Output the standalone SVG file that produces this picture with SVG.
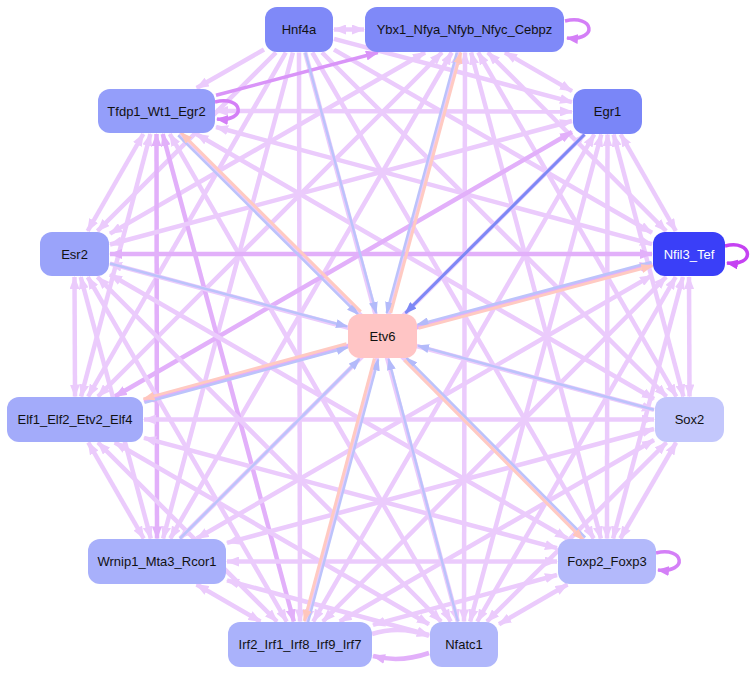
<svg xmlns="http://www.w3.org/2000/svg" width="756" height="674" viewBox="0 0 756 674">
<defs>
<style>
.pp{stroke:#ebcbfc;stroke-width:4.5;fill:none;marker-start:url(#aP);marker-end:url(#aP)}
.pe{stroke:#ebcbfc;stroke-width:4.5;fill:none;marker-end:url(#aP)}
.dp{stroke:#e2b0fa;stroke-width:4.5;fill:none;marker-start:url(#aD);marker-end:url(#aD)}
.dk{stroke:#d994f8;stroke-width:3.5;fill:none;marker-end:url(#aK)}
.bl{stroke:#bcc3fb;stroke-width:2.5;fill:none;marker-end:url(#aB)}
.db{stroke:#7d88f5;stroke-width:3;fill:none;marker-end:url(#aDB)}
.sa{stroke:#ffcac2;stroke-width:3;fill:none;marker-end:url(#aS)}
.lp{stroke:#d47ff7;stroke-width:3.5;fill:none;marker-end:url(#aL)}
.ln{stroke:#c542f2;stroke-width:3.5;fill:none;marker-end:url(#aN)}
.n rect{rx:12;ry:12}
.t{font-family:"Liberation Sans",Arial,sans-serif;font-size:13px;text-anchor:middle;fill:#111}
</style>
<marker id="aP" viewBox="0 0 13 10" refX="12" refY="5" markerWidth="13" markerHeight="10" markerUnits="userSpaceOnUse" orient="auto-start-reverse"><path d="M0,0L13,5L0,10z" fill="#ebcbfc"/></marker>
<marker id="aD" viewBox="0 0 13 10" refX="12" refY="5" markerWidth="13" markerHeight="10" markerUnits="userSpaceOnUse" orient="auto-start-reverse"><path d="M0,0L13,5L0,10z" fill="#e2b0fa"/></marker>
<marker id="aK" viewBox="0 0 13 10" refX="12" refY="5" markerWidth="13" markerHeight="10" markerUnits="userSpaceOnUse" orient="auto-start-reverse"><path d="M0,0L13,5L0,10z" fill="#d994f8"/></marker>
<marker id="aB" viewBox="0 0 12 9" refX="11" refY="4.5" markerWidth="12" markerHeight="9" markerUnits="userSpaceOnUse" orient="auto-start-reverse"><path d="M0,0L12,4.5L0,9z" fill="#b3bafa"/></marker>
<marker id="aDB" viewBox="0 0 12 9" refX="11" refY="4.5" markerWidth="12" markerHeight="9" markerUnits="userSpaceOnUse" orient="auto-start-reverse"><path d="M0,0L12,4.5L0,9z" fill="#7d88f5"/></marker>
<marker id="aS" viewBox="0 0 12 9" refX="11" refY="4.5" markerWidth="12" markerHeight="9" markerUnits="userSpaceOnUse" orient="auto-start-reverse"><path d="M0,0L12,4.5L0,9z" fill="#ffc6bd"/></marker>
<marker id="aL" viewBox="0 0 12 10" refX="11" refY="5" markerWidth="12" markerHeight="10" markerUnits="userSpaceOnUse" orient="auto-start-reverse"><path d="M0,0L12,5L0,10z" fill="#d47ff7"/></marker>
<marker id="aN" viewBox="0 0 12 10" refX="11" refY="5" markerWidth="12" markerHeight="10" markerUnits="userSpaceOnUse" orient="auto-start-reverse"><path d="M0,0L12,5L0,10z" fill="#c542f2"/></marker>
</defs>
<rect width="756" height="674" fill="#ffffff"/>
<g id="edges">
<line class="pp" x1="334" y1="29.5" x2="364" y2="29.5"/>
<line class="pe" x1="264" y1="49.5" x2="196.7" y2="88"/>
<line class="pe" x1="334" y1="38.8" x2="572" y2="102.1"/>
<line class="pe" x1="276" y1="52.5" x2="97.5" y2="231"/>
<line class="pe" x1="334" y1="49.6" x2="652" y2="232.7"/>
<line class="pe" x1="285.8" y1="52.5" x2="88.2" y2="396.5"/>
<line class="pe" x1="322" y1="52.5" x2="666.5" y2="396.5"/>
<line class="pe" x1="292.9" y1="52.5" x2="163.1" y2="538.5"/>
<line class="pe" x1="312.3" y1="52.5" x2="593.7" y2="538.5"/>
<line class="pe" x1="299" y1="52.5" x2="300" y2="621.5"/>
<line class="pe" x1="305.2" y1="52.5" x2="457.8" y2="621.5"/>
<line class="pp" x1="505" y1="52.5" x2="572" y2="91.1"/>
<line class="pp" x1="425" y1="52.5" x2="110" y2="233.6"/>
<line class="pp" x1="487.9" y1="52.5" x2="666.1" y2="231"/>
<line class="pp" x1="442" y1="52.5" x2="98" y2="396.5"/>
<line class="pp" x1="478.2" y1="52.5" x2="676.3" y2="396.5"/>
<line class="pp" x1="451.7" y1="52.5" x2="170.3" y2="538.5"/>
<line class="pp" x1="471.1" y1="52.5" x2="600.9" y2="538.5"/>
<line class="pp" x1="458.8" y1="52.5" x2="306.2" y2="621.5"/>
<line class="pp" x1="465" y1="52.5" x2="464" y2="621.5"/>
<line class="pp" x1="216" y1="111" x2="572" y2="111.5"/>
<line class="pp" x1="143.3" y1="134" x2="87.7" y2="231"/>
<line class="pp" x1="216" y1="127" x2="652" y2="244.1"/>
<line class="pp" x1="150.4" y1="134" x2="81.1" y2="396.5"/>
<line class="pp" x1="196.3" y1="134" x2="654" y2="399"/>
<line class="dp" x1="156.5" y1="134" x2="157" y2="538.5"/>
<line class="pp" x1="179.5" y1="134" x2="584" y2="538.5"/>
<line class="dp" x1="162.7" y1="134" x2="293.8" y2="621.5"/>
<line class="pp" x1="169.8" y1="134" x2="450.7" y2="621.5"/>
<line class="pp" x1="572" y1="121" x2="110" y2="244.5"/>
<line class="pp" x1="620.7" y1="134.5" x2="675.8" y2="231"/>
<line class="dp" x1="572" y1="132" x2="114.8" y2="396.5"/>
<line class="pp" x1="613.6" y1="134.5" x2="683.4" y2="396.5"/>
<line class="pp" x1="584.5" y1="134.5" x2="180" y2="538.5"/>
<line class="pp" x1="607.5" y1="134.5" x2="607" y2="538.5"/>
<line class="pp" x1="594.2" y1="134.5" x2="313.3" y2="621.5"/>
<line class="pp" x1="601.3" y1="134.5" x2="470.2" y2="621.5"/>
<line class="dp" x1="110" y1="254" x2="652" y2="254"/>
<line class="pp" x1="74.5" y1="277" x2="75" y2="396.5"/>
<line class="pp" x1="110" y1="263.6" x2="654" y2="409.9"/>
<line class="pp" x1="80.7" y1="277" x2="150.8" y2="538.5"/>
<line class="pp" x1="110" y1="274.5" x2="567.2" y2="538.5"/>
<line class="pp" x1="87.8" y1="277" x2="286.7" y2="621.5"/>
<line class="pp" x1="97.4" y1="277" x2="441.1" y2="621.5"/>
<line class="dp" x1="652" y1="264" x2="144" y2="400.9"/>
<line class="pp" x1="689" y1="277" x2="689.5" y2="396.5"/>
<line class="pp" x1="652" y1="275.4" x2="196.8" y2="538.5"/>
<line class="pp" x1="682.9" y1="277" x2="613.1" y2="538.5"/>
<line class="pp" x1="666.1" y1="277" x2="322.9" y2="621.5"/>
<line class="pp" x1="675.7" y1="277" x2="477.3" y2="621.5"/>
<line class="pp" x1="144" y1="419.5" x2="654" y2="419.5"/>
<line class="pp" x1="88.3" y1="442.5" x2="143.7" y2="538.5"/>
<line class="pp" x1="144" y1="437.9" x2="557" y2="548.2"/>
<line class="pp" x1="98" y1="442.5" x2="277" y2="621.5"/>
<line class="pp" x1="114.8" y1="442.5" x2="429" y2="624.3"/>
<line class="pp" x1="654" y1="429" x2="227" y2="542.8"/>
<line class="pp" x1="676.1" y1="442.5" x2="620.4" y2="538.5"/>
<line class="pp" x1="654" y1="440" x2="339.8" y2="621.5"/>
<line class="pp" x1="666.5" y1="442.5" x2="487" y2="621.5"/>
<line class="pp" x1="227" y1="561.5" x2="557" y2="561.5"/>
<line class="pp" x1="196.6" y1="584.5" x2="260.4" y2="621.5"/>
<line class="pp" x1="227" y1="580.4" x2="429" y2="635"/>
<line class="pp" x1="557" y1="575" x2="373" y2="624.8"/>
<line class="pp" x1="567.4" y1="584.5" x2="499" y2="624.2"/>
<line class="dk" x1="216" y1="95.3" x2="377.9" y2="52.5"/>
<path class="pe" d="M372,634 Q400,625 429,636"/>
<path class="pe" style="stroke:#e2b0fa;marker-end:url(#aD)" d="M429,653 Q400,663 373,656"/>
<path class="lp" d="M565,21 C594,14 599,41 567,38"/>
<path class="lp" d="M215,102 C243,95 248,122 217,119"/>
<path class="ln" d="M725,246 C753,239 756,267 727,263"/>
<path class="lp" d="M656,553 C684,546 689,573 658,570"/>
<line class="bl" x1="305.3" y1="52.5" x2="376.2" y2="313"/>
<line class="bl" x1="456.8" y1="52.5" x2="386.7" y2="313"/>
<line class="sa" x1="390.7" y1="313" x2="460.8" y2="52.5"/>
<line class="bl" x1="178.2" y1="135.4" x2="358" y2="314.4"/>
<line class="sa" x1="360.8" y1="311.6" x2="181" y2="132.6"/>
<line class="db" x1="584.5" y1="134.5" x2="405.5" y2="313"/>
<line class="bl" x1="110" y1="263.5" x2="347" y2="326.5"/>
<line class="bl" x1="651.5" y1="262" x2="417.5" y2="324.6"/>
<line class="sa" x1="418.5" y1="328.4" x2="652.5" y2="265.8"/>
<line class="bl" x1="144.5" y1="402.7" x2="347.5" y2="347.5"/>
<line class="sa" x1="346.5" y1="343.7" x2="143.5" y2="398.9"/>
<line class="bl" x1="654" y1="409.8" x2="418" y2="345.7"/>
<line class="bl" x1="180" y1="538.5" x2="359.5" y2="359"/>
<line class="bl" x1="585.2" y1="537.4" x2="406.5" y2="357.9"/>
<line class="sa" x1="404.3" y1="360.1" x2="583" y2="539.6"/>
<line class="bl" x1="308.1" y1="622" x2="378.2" y2="359.5"/>
<line class="sa" x1="374.4" y1="358.5" x2="304.3" y2="621"/>
<line class="bl" x1="457.9" y1="621.5" x2="388.6" y2="359"/>
</g>
<g id="node-Hnf4a" class="n"><rect x="265" y="7" width="68" height="45" fill="#7f89f8"/><text class="t" x="299" y="34">Hnf4a</text></g>
<g id="node-Ybx1_Nfya_Nfyb_Nfyc_Cebpz" class="n"><rect x="365" y="7" width="199" height="45" fill="#7f89f8"/><text class="t" x="464.5" y="34">Ybx1_Nfya_Nfyb_Nfyc_Cebpz</text></g>
<g id="node-Tfdp1_Wt1_Egr2" class="n"><rect x="98" y="89" width="117" height="44" fill="#949efa"/><text class="t" x="156.5" y="115.5">Tfdp1_Wt1_Egr2</text></g>
<g id="node-Egr1" class="n"><rect x="573" y="89" width="69" height="45" fill="#7a86f8"/><text class="t" x="607.5" y="116">Egr1</text></g>
<g id="node-Esr2" class="n"><rect x="40" y="232" width="69" height="44" fill="#9aa3fa"/><text class="t" x="74.5" y="258.5">Esr2</text></g>
<g id="node-Nfil3_Tef" class="n"><rect x="653" y="232" width="72" height="44" fill="#3a3ff8"/><text class="t" x="689" y="258.5" style="fill:#ffffff">Nfil3_Tef</text></g>
<g id="node-Etv6" class="n"><rect x="348" y="314" width="69" height="44" fill="#ffc5c5"/><text class="t" x="382.5" y="340.5">Etv6</text></g>
<g id="node-Elf1_Elf2_Etv2_Elf4" class="n"><rect x="7" y="397" width="136" height="45" fill="#a3abfa"/><text class="t" x="75" y="424">Elf1_Elf2_Etv2_Elf4</text></g>
<g id="node-Sox2" class="n"><rect x="655" y="397" width="69" height="45" fill="#c3c7fc"/><text class="t" x="689.5" y="424">Sox2</text></g>
<g id="node-Wrnip1_Mta3_Rcor1" class="n"><rect x="88" y="539" width="138" height="45" fill="#a8b0fb"/><text class="t" x="157" y="566">Wrnip1_Mta3_Rcor1</text></g>
<g id="node-Foxp2_Foxp3" class="n"><rect x="558" y="539" width="98" height="45" fill="#b3b9fb"/><text class="t" x="607" y="566">Foxp2_Foxp3</text></g>
<g id="node-Irf2_Irf1_Irf8_Irf9_Irf7" class="n"><rect x="228" y="622" width="144" height="45" fill="#aab2fb"/><text class="t" x="300" y="649">Irf2_Irf1_Irf8_Irf9_Irf7</text></g>
<g id="node-Nfatc1" class="n"><rect x="430" y="622" width="68" height="45" fill="#b0b7fb"/><text class="t" x="464" y="649">Nfatc1</text></g>
</svg>
